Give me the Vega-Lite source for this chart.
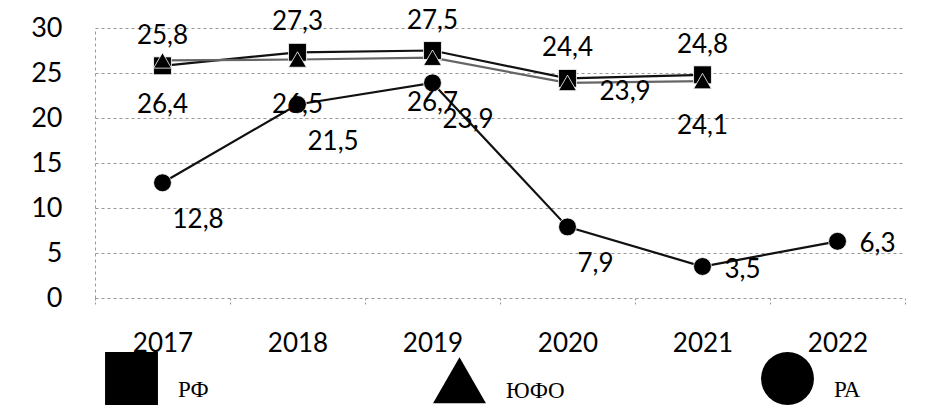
{
  "$schema": "https://vega.github.io/schema/vega-lite/v6.json",
  "width": 810,
  "height": 270,
  "autosize": {"type": "none"},
  "padding": {"left": 95, "top": 28, "right": 23, "bottom": 116},
  "background": "white",
  "config": {
    "view": {"stroke": null},
    "legend": {"labelFont": "Liberation Serif"},
    "locale": {"number": {"decimal": ",", "thousands": " ", "grouping": [3], "currency": ["", ""]}}
  },
  "data": {
    "values": [
      {"year": "2017", "series": "РФ", "value": 25.8},
      {"year": "2018", "series": "РФ", "value": 27.3},
      {"year": "2019", "series": "РФ", "value": 27.5},
      {"year": "2020", "series": "РФ", "value": 24.4},
      {"year": "2021", "series": "РФ", "value": 24.8},
      {"year": "2017", "series": "ЮФО", "value": 26.4},
      {"year": "2018", "series": "ЮФО", "value": 26.5},
      {"year": "2019", "series": "ЮФО", "value": 26.7},
      {"year": "2020", "series": "ЮФО", "value": 23.9},
      {"year": "2021", "series": "ЮФО", "value": 24.1},
      {"year": "2017", "series": "РА", "value": 12.8},
      {"year": "2018", "series": "РА", "value": 21.5},
      {"year": "2019", "series": "РА", "value": 23.9},
      {"year": "2020", "series": "РА", "value": 7.9},
      {"year": "2021", "series": "РА", "value": 3.5},
      {"year": "2022", "series": "РА", "value": 6.3}
    ]
  },
  "encoding": {
    "x": {
      "field": "year", "type": "ordinal",
      "scale": {"type": "band", "paddingInner": 0, "paddingOuter": 0},
      "axis": {
        "title": null, "labelAngle": 0, "domain": false, "grid": false,
        "ticks": true, "tickBand": "extent", "tickColor": "#999", "tickDash": [2, 2], "tickSize": 8,
        "labelFont": "Lato", "labelFontSize": 26, "labelColor": "black", "labelPadding": 24
      }
    },
    "y": {
      "field": "value", "type": "quantitative",
      "scale": {"domain": [0, 30], "nice": false},
      "axis": {
        "title": null, "values": [0, 5, 10, 15, 20, 25, 30],
        "domain": true, "domainColor": "#999", "domainDash": [3, 3],
        "ticks": false, "grid": true, "gridColor": "#999", "gridDash": [3, 3],
        "labelFont": "Lato", "labelFontSize": 27, "labelColor": "black", "labelPadding": 33
      }
    }
  },
  "layer": [
    {
      "mark": {"type": "line", "strokeWidth": 2.2},
      "encoding": {
        "detail": {"field": "series", "type": "nominal"},
        "color": {"condition": {"test": "datum.series === 'ЮФО'", "value": "#666"}, "value": "#111"}
      }
    },
    {
      "mark": {"type": "point", "filled": true, "size": 320, "opacity": 1, "stroke": "white", "strokeWidth": 0.8},
      "encoding": {
        "color": {"value": "black"},
        "shape": {
          "field": "series", "type": "nominal",
          "scale": {"domain": ["РФ", "ЮФО", "РА"], "range": ["square", "triangle-up", "circle"]},
          "legend": {
            "title": null, "orient": "none", "legendX": 10, "legendY": 324,
            "direction": "horizontal", "columns": 3, "gridAlign": "all", "columnPadding": 196,
            "symbolSize": 2800, "symbolFillColor": "black", "symbolStrokeWidth": 0, "symbolOpacity": 1,
            "labelFont": "Liberation Serif", "labelFontSize": 23, "labelColor": "black",
            "labelOffset": 20, "labelBaseline": "top"
          }
        }
      }
    },
    {
      "transform": [{"filter": "datum.series === 'РФ'"}],
      "mark": {"type": "text", "fontSize": 26, "font": "Lato", "color": "black", "dy": -30, "align": "center", "baseline": "middle"},
      "encoding": {"text": {"field": "value", "type": "quantitative", "format": ".1f"}}
    },
    {
      "transform": [{"filter": "datum.series === 'ЮФО' && datum.year !== '2020'"}],
      "mark": {"type": "text", "fontSize": 26, "font": "Lato", "color": "black", "dy": 45, "align": "center", "baseline": "middle"},
      "encoding": {"text": {"field": "value", "type": "quantitative", "format": ".1f"}}
    },
    {
      "transform": [{"filter": "datum.series === 'ЮФО' && datum.year === '2020'"}],
      "mark": {"type": "text", "fontSize": 26, "font": "Lato", "color": "black", "dx": 32, "dy": 9, "align": "left", "baseline": "middle"},
      "encoding": {"text": {"field": "value", "type": "quantitative", "format": ".1f"}}
    },
    {
      "transform": [{"filter": "datum.series === 'РА' && datum.year <= '2020'"}],
      "mark": {"type": "text", "fontSize": 26, "font": "Lato", "color": "black", "dx": 10, "dy": 37, "align": "left", "baseline": "middle"},
      "encoding": {"text": {"field": "value", "type": "quantitative", "format": ".1f"}}
    },
    {
      "transform": [{"filter": "datum.series === 'РА' && datum.year > '2020'"}],
      "mark": {"type": "text", "fontSize": 26, "font": "Lato", "color": "black", "dx": 22, "dy": 3, "align": "left", "baseline": "middle"},
      "encoding": {"text": {"field": "value", "type": "quantitative", "format": ".1f"}}
    }
  ]
}
